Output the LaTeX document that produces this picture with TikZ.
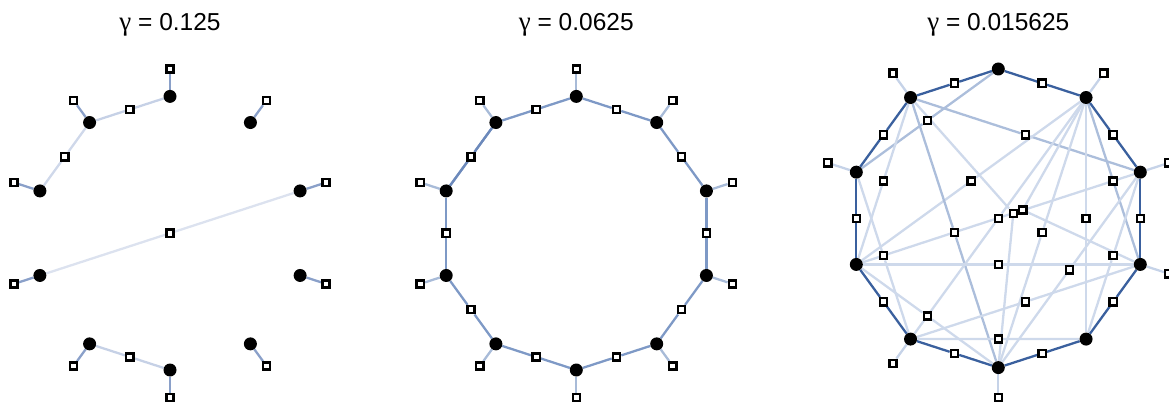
\documentclass[tikz,border=0pt]{standalone}
\usepackage{fontspec}
\setmainfont{Liberation Sans}
\newfontfamily\gfont{Liberation Serif}
\usetikzlibrary{calc}
\pgfdeclarelayer{bg}
\pgfsetlayers{bg,main}
\definecolor{pendA}{RGB}{138,160,201}
\definecolor{chA}{RGB}{198,209,230}
\definecolor{chAlt}{RGB}{220,226,239}
\definecolor{ringB}{RGB}{126,153,198}
\definecolor{ringBd}{RGB}{108,137,187}
\definecolor{pendB}{RGB}{168,187,216}
\definecolor{ringC}{RGB}{58,96,158}
\definecolor{pendC}{RGB}{198,211,232}
\definecolor{chL}{RGB}{206,217,235}
\definecolor{chM}{RGB}{172,190,219}
\begin{document}
\begin{tikzpicture}[x=1pt,y=1pt,
  dot/.style={circle,fill=black,inner sep=0pt,minimum size=13pt},
  fac/.style={rectangle,draw=black,fill=white,line width=2.4pt,inner sep=0pt,minimum size=7.2pt},
  edge/.style={line width=2.3pt},
  title/.style={font=\fontsize{24.5}{28}\selectfont,anchor=base}]
\useasboundingbox (0,0) rectangle (1169,-406);

% titles
\node[title] (t1) at (170,-30.5) {{\gfont\fontsize{27}{28}\selectfont γ} = 0.125};
\node[title] (t2) at (576.3,-30.5) {{\gfont\fontsize{27}{28}\selectfont γ} = 0.0625};
\node[title] (t3) at (998.3,-30.5) {{\gfont\fontsize{27}{28}\selectfont γ} = 0.015625};

% ---------- panel 1 ----------
\foreach \k in {0,...,9} {
  \path (170,-233.2) ++(90-36*\k:136.8) node[dot] (a\k) {};
  \path (170,-233.2) ++(90-36*\k:164.1) node[fac] (pa\k) {};
}
\node[fac] (am09) at ($(a0)!0.5!(a9)$) {};
\node[fac] (am98) at ($(a9)!0.5!(a8)$) {};
\node[fac] (am72) at ($(a7)!0.5!(a2)$) {};
\node[fac] (am65) at ($(a6)!0.5!(a5)$) {};

% ---------- panel 2 ----------
\foreach \k in {0,...,9} {
  \path (576.3,-233.2) ++(90-36*\k:136.8) node[dot] (b\k) {};
  \path (576.3,-233.2) ++(90-36*\k:164.1) node[fac] (pb\k) {};
}
\foreach \k [evaluate=\k as \n using {int(mod(\k+1,10))}] in {0,...,9} {
  \node[fac] (bm\k) at ($(b\k)!0.5!(b\n)$) {};
}

% ---------- panel 3 ----------
\foreach \k in {0,...,9} {
  \path (998.3,-218.3) ++(90-36*\k:149.3) node[dot] (c\k) {};
}
\foreach \k in {1,2,3,5,6,8,9} {
  \path (998.3,-218.3) ++(90-36*\k:179.3) node[fac] (pc\k) {};
}
\foreach \k [evaluate=\k as \n using {int(mod(\k+1,10))}] in {0,...,9} {
  \node[fac] (cm\k) at ($(c\k)!0.5!(c\n)$) {};
}
\foreach \i/\j in {0/8,9/2,9/7,1/7,1/3,9/5,1/5,1/4,8/6,2/4,7/3,2/5,6/3,7/5,6/4,1/6} {
  \node[fac] (cx\i\j) at ($(c\i)!0.5!(c\j)$) {};
}
\node[fac] (fa) at (1013.3,-213.3) {};
\node[fac] (fb) at (1022.7,-210) {};

% ---------- edges ----------
\begin{pgfonlayer}{bg}
  % panel 1
  \foreach \k in {0,...,9} { \draw[edge,pendA] (a\k) -- (pa\k); }
  \draw[edge,chA] (a0) -- (am09) -- (a9);
  \draw[edge,chA!85!white] (a9) -- (am98) -- (a8);
  \draw[edge,chAlt] (a7) -- (am72) -- (a2);
  \draw[edge,chA] (a6) -- (am65) -- (a5);
  % panel 2
  \foreach \k in {0,...,9} { \draw[edge,pendB] (b\k) -- (pb\k); }
  \foreach \k [evaluate=\k as \n using {int(mod(\k+1,10))}] in {0,...,9} {
    \draw[edge,ringB] (b\k) -- (bm\k) -- (b\n);
  }
  \draw[edge,ringBd] (b9) -- (bm8) -- (b8);
  % panel 3
  \foreach \k in {1,2,3,5,6,8,9} { \draw[edge,pendC] (c\k) -- (pc\k); }
  \foreach \i/\j/\col in {0/8/chM,9/2/chM,9/7/chL,1/7/chL,1/3/chM,9/5/chM,1/5/chL,1/4/chL,8/6/chL,2/4/chL,7/3/chL,2/5/chL,6/3/chL,7/5/chL,6/4/chL,1/6/chL} {
    \draw[edge,\col] (c\i) -- (cx\i\j) -- (c\j);
  }
  \draw[edge,chL] (fa) -- (c9);
  \draw[edge,chL] (fa) -- (c5);
  \draw[edge,chL] (fa) -- (c2);
  \draw[edge,chL] (fb) -- (c1);
  \draw[edge,chL] (fb) -- (c7);
  \draw[edge,chL] (fb) -- (c3);
  \foreach \k [evaluate=\k as \n using {int(mod(\k+1,10))}] in {0,...,9} {
    \draw[edge,ringC] (c\k) -- (cm\k) -- (c\n);
  }
\end{pgfonlayer}
\end{tikzpicture}
\end{document}
